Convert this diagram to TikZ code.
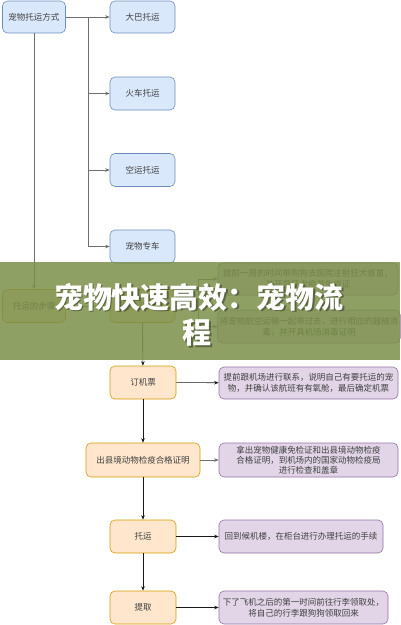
\documentclass[tikz,border=0pt]{standalone}
\usepackage{fontspec}
\newfontfamily\cjk{Noto Sans CJK SC}
\usetikzlibrary{arrows.meta}
\definecolor{bluefill}{HTML}{DAE8FC}
\definecolor{blueline}{HTML}{6C8EBF}
\definecolor{orfill}{HTML}{FFE6CC}
\definecolor{orline}{HTML}{D79B00}
\definecolor{pufill}{HTML}{E1D5E7}
\definecolor{puline}{HTML}{9673A6}
\definecolor{bandcol}{RGB}{122,143,72}
\definecolor{linegray}{RGB}{110,110,110}
\tikzset{
  box/.style={draw, rounded corners=5pt, line width=0.6pt, align=center, inner sep=2pt,
    font=\cjk\fontsize{8.5}{11}\selectfont, text=black!75},
  bluebox/.style={box, fill=bluefill, draw=blueline, minimum width=65pt, minimum height=33pt},
  orbox/.style={box, fill=orfill, draw=orline, minimum height=33pt},
  pubox/.style={box, fill=pufill, draw=puline, minimum height=33pt},
  arr/.style={-{Stealth[length=4.5pt,width=3.5pt]}, line width=0.6pt},
  grayarr/.style={arr, draw=linegray},
  blackarr/.style={arr, draw=black!90},
}
\begin{document}
\begin{tikzpicture}[x=1pt,y=-1pt]
\useasboundingbox (0,0) rectangle (400,625);
% top group
\node[bluebox, minimum width=63pt, minimum height=32pt] (top) at (34,17) {宠物托运方式};
\node[bluebox, minimum height=32pt] (bus) at (142.5,17) {大巴托运};
\node[bluebox] (train) at (142.5,93.5) {火车托运};
\node[bluebox] (air) at (142.5,170) {空运托运};
\node[bluebox] (car) at (142.5,246.5) {宠物专车};
\coordinate (bx) at (88,17);
\draw[grayarr] (top) -- (bus);
\draw[grayarr] (bx) |- (train);
\draw[grayarr] (bx) |- (air);
\draw[grayarr] (bx) |- (car);
% steps
\node[orbox, minimum width=63pt] (steps) at (34,306) {托运的步骤};
\node[orbox, minimum width=65pt] (immune) at (142.5,306) {免疫及检疫};
\node[pubox, minimum width=180pt, minimum height=32pt] (r1) at (308,279) {提前一周的时间带狗狗去医院注射狂犬疫苗，\\并开具狂犬疫苗免疫证};
\node[pubox, minimum width=178pt] (r2) at (309,326.5) {将宠物航空运输一起带过去，进行相应的器械消\\毒，并开具机场消毒证明};
\draw[grayarr] (top) -- (steps);
\draw[grayarr] (steps) -- (immune);
\coordinate (jx) at (198,306);
\draw[line width=0.6pt, draw=linegray] (immune) -- (jx);
\draw[grayarr] (jx) |- (r1);
\draw[grayarr] (jx) |- (r2);
% main flow
\node[orbox, minimum width=66pt] (ticket) at (143,382.5) {订机票};
\node[pubox, minimum width=179pt, minimum height=32pt] (p1) at (308.5,383) {提前跟机场进行联系，说明自己有要托运的宠\\物，并确认该航班有有氧舱，最后确定机票};
\node[orbox, minimum width=114pt, minimum height=34pt] (cert) at (143,460) {出县境动物检疫合格证明};
\node[pubox, minimum width=179pt, minimum height=34pt, font=\cjk\fontsize{8.5}{10}\selectfont] (p2) at (308.5,460) {拿出宠物健康免检证和出县境动物检疫\\合格证明，到机场内的国家动物检疫局\\进行检查和盖章};
\node[orbox, minimum width=66pt] (ship) at (143,536.5) {托运};
\node[pubox, minimum width=164pt] (p3) at (301,536.5) {回到候机楼，在柜台进行办理托运的手续};
\node[orbox, minimum width=66pt] (pick) at (143,607.5) {提取};
\node[pubox, minimum width=169pt] (p4) at (303.5,607.5) {下了飞机之后的第一时间前往行李领取处，\\将自己的行李跟狗狗领取回来};
\draw[blackarr] (immune) -- (ticket);
\draw[blackarr] (ticket) -- (p1);
\draw[blackarr] (ticket) -- (cert);
\draw[grayarr] (cert) -- (p2);
\draw[blackarr] (cert) -- (ship);
\draw[blackarr] (ship) -- (p3);
\draw[blackarr] (ship) -- (pick);
\draw[blackarr] (pick) -- (p4);
% banner overlay
\fill[bandcol, opacity=0.85] (0,262) rectangle (400,360);
\node[font=\cjk\bfseries\fontsize{29}{30}\selectfont, text=black, opacity=0.35] (t1s) at (200.5,298.5) {宠物快速高效：宠物流};
\node[font=\cjk\bfseries\fontsize{29}{30}\selectfont, text=black, opacity=0.35] (t2s) at (198.5,334.5) {程};
\node[font=\cjk\bfseries\fontsize{29}{30}\selectfont, text=white] (t1) at (199,297) {宠物快速高效：宠物流};
\node[font=\cjk\bfseries\fontsize{29}{30}\selectfont, text=white] (t2) at (197,333) {程};
\end{tikzpicture}
\end{document}
